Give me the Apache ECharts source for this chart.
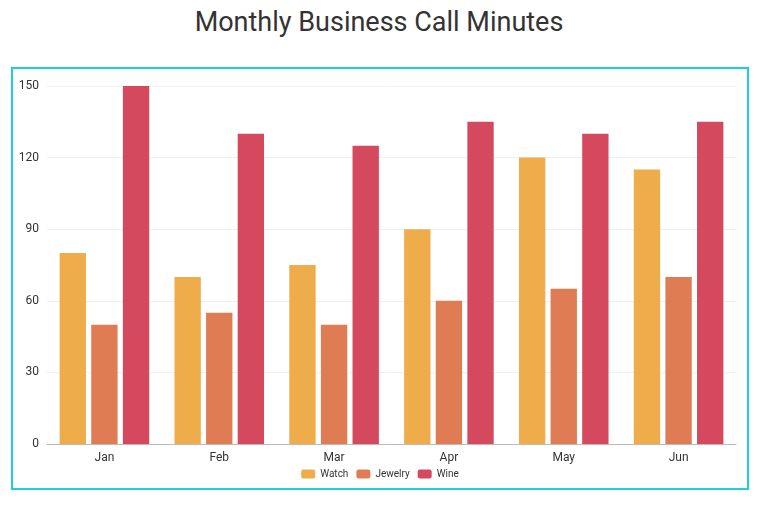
<!DOCTYPE html>
<html><head><meta charset="utf-8">
<script src="https://cdn.jsdelivr.net/npm/echarts@6/dist/echarts.min.js"></script>
<style>
body{margin:0;background:#fff;font-family:Roboto,sans-serif}
h1{position:absolute;left:0;top:6px;width:758px;margin:0;text-align:center;font-weight:400;font-size:27px;color:#333}
#box{position:absolute;left:11px;top:67px;width:734px;height:419px;border:2px solid #1ccfdc}
</style></head><body>
<h1>Monthly Business Call Minutes</h1>
<div id="box"></div>
<script>
const months = ['Jan','Feb','Mar','Apr','May','Jun']
const watch = [80,70,75,90,120,115]
const jewelry = [50,55,50,60,65,70]
const wine = [150,130,125,135,130,135]

const chart = echarts.init(document.getElementById('box'))
chart.setOption({
  animation: false,
  textStyle: {fontFamily: 'Roboto'},
  grid: {left: 34, right: 11, top: 17, bottom: 44},
  legend: {bottom: 4, itemWidth: 14, itemHeight: 9, itemGap: 8,
    textStyle: {fontSize: 10, color: '#333'}},
  xAxis: {type: 'category', data: months,
    axisLine: {lineStyle: {color: '#bbb'}}, axisTick: {lineStyle: {color: '#bbb'}},
    axisLabel: {color: '#333', fontSize: 12}},
  yAxis: {type: 'value', min: 0, max: 150, interval: 30,
    axisLine: {show: false}, axisTick: {show: false},
    splitLine: {lineStyle: {color: '#f0f0f0'}},
    axisLabel: {color: '#333', fontSize: 12}},
  series: [
    {name: 'Watch', type: 'bar', data: watch, itemStyle: {color: '#eeac4b'}, barGap: '20%', barCategoryGap: '22%'},
    {name: 'Jewelry', type: 'bar', data: jewelry, itemStyle: {color: '#df7c53'}},
    {name: 'Wine', type: 'bar', data: wine, itemStyle: {color: '#d4495d'}}
  ]
})
</script></body></html>
